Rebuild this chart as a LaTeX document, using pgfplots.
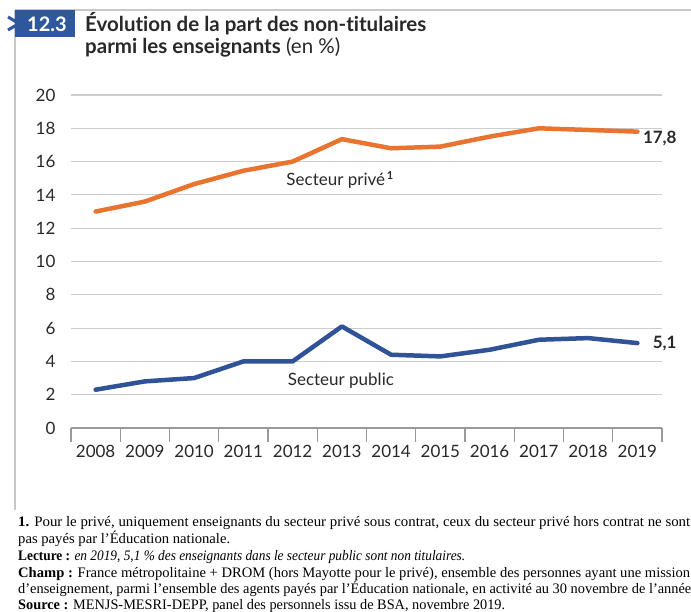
\documentclass[border=0pt]{standalone}
\usepackage{fontspec}
\setmainfont{Lato}[Ligatures=NoCommon]
\newfontfamily\notefont{Liberation Serif}
\usepackage{graphicx}
\usepackage{pgfplots}
\pgfplotsset{compat=1.18}
\definecolor{orangeline}{RGB}{232,116,48}
\definecolor{blueline}{RGB}{47,83,150}
\definecolor{boxblue}{RGB}{46,88,155}
\definecolor{framegray}{RGB}{200,200,200}
\definecolor{gridgray}{RGB}{205,205,205}
\definecolor{textgray}{RGB}{40,40,40}
\newcommand{\ticksize}{\fontsize{17}{17}\selectfont}
\newcommand{\notesize}{\fontsize{14.5}{16}\selectfont}
\newcommand{\noteline}[2]{\resizebox{#1pt}{\height}{#2}}

\begin{document}
\begin{tikzpicture}[x=1pt,y=-1pt]
\path[use as bounding box] (0,0) rectangle (691,612);

% frame and header
\draw[framegray, line width=2pt] (15,10) -- (691,10);
\draw[framegray, line width=2pt] (15,10) -- (15,510);
\fill[boxblue] (15,10) rectangle (75,37);
\draw[boxblue, line width=3pt, line join=miter] (8,17) -- (19,23.5) -- (8,30);
\node[anchor=west, text=white, font=\fontsize{20}{20}\selectfont\bfseries, inner sep=0pt] at (27,24) {12.3};
\node[anchor=west, text=textgray, font=\fontsize{20.5}{20}\selectfont\bfseries, inner sep=0pt] at (85,24) {Évolution de la part des non-titulaires};
\node[anchor=west, text=textgray, font=\fontsize{20.5}{20}\selectfont, inner sep=0pt] at (85,47) {\textbf{parmi les enseignants} (en \%)};

\begin{axis}[
    at={(71pt,-428pt)}, anchor=south west,
    scale only axis, width=591pt, height=333pt,
    xmin=-0.5, xmax=11.5, ymin=0, ymax=20,
    axis x line=bottom, axis y line=left,
    x axis line style={-, draw=gray!80, line width=1.2pt},
    y axis line style={draw=none},
    xtick={0,...,11},
    xticklabels={2008,2009,2010,2011,2012,2013,2014,2015,2016,2017,2018,2019},
    major x tick style={draw=none},
    minor xtick={-0.5,0.5,...,11.5},
    minor x tick style={gray!80, line width=1.2pt},
    minor tick length=14pt, major tick length=0pt, tick align=outside,
    ytick={0,2,...,20}, major y tick style={draw=none},
    ymajorgrids, grid style={gridgray, line width=1.2pt},
    /pgf/number format/assume math mode=true,
    tick label style={font=\ticksize, text=textgray},
    yticklabel style={xshift=-12pt},
    xticklabel style={yshift=-14pt},
    clip=false,
    ]
    % Secteur prive
    \addplot[orangeline, line width=4.5pt, line join=round, line cap=round] coordinates {
        (0,13.0) (1,13.6) (2,14.65) (3,15.45) (4,16.0) (5,17.35)
        (6,16.8) (7,16.9) (8,17.5) (9,18.0) (10,17.9) (11,17.8)};
    % Secteur public
    \addplot[blueline, line width=4.5pt, line join=round, line cap=round] coordinates {
        (0,2.3) (1,2.8) (2,3.0) (3,4.0) (4,4.0) (5,6.1)
        (6,4.4) (7,4.3) (8,4.7) (9,5.3) (10,5.4) (11,5.1)};

    \node[font=\ticksize, text=textgray] at (axis cs:4.96,14.9) {Secteur privé\raisebox{0.75ex}{\fontsize{11}{11}\selectfont\bfseries\,1}};
    \node[font=\ticksize, text=textgray] at (axis cs:4.98,2.82) {Secteur public};
    \node[anchor=east, font=\ticksize\bfseries, text=textgray, inner sep=0pt] at (axis cs:11.8,17.4) {17,8};
    \node[anchor=east, font=\ticksize\bfseries, text=textgray, inner sep=0pt] at (axis cs:11.8,5.1) {5,1};
\end{axis}

% notes
\begin{scope}[every node/.style={anchor=base west, inner sep=0pt, font=\notefont\notesize, text=black}]
\node at (18,526) {\noteline{672}{\textbf{1.} Pour le privé, uniquement enseignants du secteur privé sous contrat, ceux du secteur privé hors contrat ne sont}};
\node at (18,543) {\noteline{212}{pas payés par l’Éducation nationale.}};
\node at (18,560) {\noteline{447}{\textbf{Lecture :} \textit{en 2019, 5,1 \% des enseignants dans le secteur public sont non titulaires.}}};
\node at (18,577) {\noteline{672}{\textbf{Champ :} France métropolitaine + DROM (hors Mayotte pour le privé), ensemble des personnes ayant une mission}};
\node at (18,593) {\noteline{673}{d’enseignement, parmi l’ensemble des agents payés par l’Éducation nationale, en activité au 30 novembre de l’année}};
\node at (18,609) {\noteline{487}{\textbf{Source :} MENJS-MESRI-DEPP, panel des personnels issu de BSA, novembre 2019.}};
\end{scope}
\end{tikzpicture}
\end{document}
